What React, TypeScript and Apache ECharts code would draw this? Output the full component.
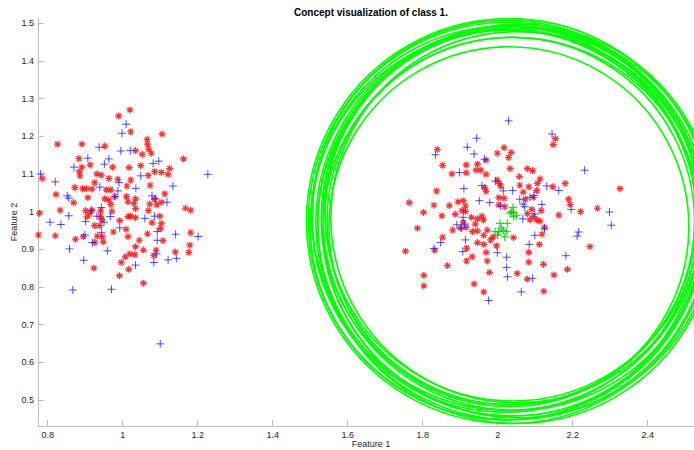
import React, { useEffect, useRef } from "react";
import * as echarts from "echarts";

const TITLE = "Concept visualization of class 1.";
const X_NAME = "Feature 1";
const Y_NAME = "Feature 2";

// class samples (red asterisks)
const redPoints: [number, number][] = [
  [0.989, 1.254], [1.019, 1.27], [1.021, 1.212], [0.826, 1.179], [0.891, 1.179], [0.952, 1.174],
  [0.883, 1.141], [0.891, 1.118], [0.913, 1.124], [0.973, 1.118], [1.017, 1.117], [0.884, 1.106],
  [0.886, 1.095], [0.931, 1.1], [0.943, 1.097], [0.963, 1.088], [0.987, 1.086], [0.785, 1.088],
  [1.021, 1.084], [0.925, 1.077], [1.011, 1.068], [0.872, 1.064], [0.893, 1.061], [0.903, 1.061],
  [0.918, 1.06], [0.956, 1.058], [0.968, 1.058], [0.822, 1.046], [0.907, 1.037], [0.952, 1.034],
  [0.963, 1.031], [0.979, 1.04], [1.01, 1.04], [1.014, 1.026], [0.869, 1.024], [0.968, 1.019],
  [0.833, 1.004], [0.901, 1.003], [0.912, 0.996], [0.918, 1.004], [0.941, 1.002], [0.971, 1.001],
  [0.905, 0.987], [0.941, 0.987], [0.778, 0.996], [1.014, 0.987], [1.021, 0.988], [0.944, 0.978],
  [0.992, 0.976], [0.925, 0.963], [0.939, 0.963], [0.775, 0.938], [0.82, 0.936], [0.874, 0.927],
  [0.895, 0.934], [0.932, 0.935], [0.945, 0.934], [0.975, 0.946], [1.009, 0.953], [1.014, 0.934],
  [0.925, 0.918], [0.948, 0.92], [1.019, 0.888], [1.007, 0.88], [0.996, 0.865], [0.923, 0.85],
  [1.016, 0.847], [0.991, 0.83],
  [1.105, 1.206], [1.065, 1.192], [1.066, 1.179], [1.069, 1.166], [1.076, 1.155], [1.052, 1.152],
  [1.034, 1.162], [1.162, 1.14], [1.048, 1.122], [1.085, 1.106], [1.103, 1.104], [1.121, 1.099],
  [1.125, 1.115], [1.068, 1.096], [1.073, 1.07], [1.112, 1.047], [1.034, 1.034], [1.03, 1.022],
  [1.034, 1.008], [1.072, 1.02], [1.068, 1.003], [1.085, 1.033], [1.091, 1.018], [1.103, 1.025],
  [1.167, 1.009], [1.181, 1.004], [1.099, 0.988], [1.078, 0.971], [1.103, 0.969], [1.1, 0.955],
  [1.034, 0.984], [1.066, 0.941], [1.181, 0.944], [1.044, 0.924], [1.034, 0.907], [1.055, 0.898],
  [1.089, 0.898], [1.107, 0.923], [1.179, 0.911], [1.176, 0.892], [1.14, 0.893], [1.083, 0.883],
  [1.032, 0.886], [1.055, 0.81],
  [1.839, 1.165], [1.853, 1.123], [1.878, 1.1], [1.916, 1.124], [1.916, 1.103], [1.946, 1.126],
  [1.942, 1.11], [1.955, 1.11], [1.969, 1.099], [1.969, 1.137], [1.999, 1.155], [2.017, 1.17],
  [2.036, 1.157], [2.029, 1.144], [2.033, 1.114], [1.837, 1.055], [1.764, 1.024], [1.83, 1.017],
  [1.871, 1.016], [1.894, 1.026], [1.908, 1.029], [1.905, 1.003], [1.914, 1.001], [1.802, 0.998],
  [1.851, 0.989], [1.887, 0.993], [1.93, 0.985], [1.946, 0.981], [1.958, 0.988], [1.962, 0.978],
  [1.94, 0.967], [1.908, 0.972], [1.916, 0.958], [1.901, 0.957], [1.88, 0.951], [1.933, 0.947],
  [1.946, 0.949], [1.972, 0.951], [1.963, 0.937], [1.786, 0.956], [1.853, 0.932], [1.832, 0.898],
  [1.754, 0.895], [1.917, 0.903], [1.932, 0.88], [1.917, 0.869], [1.946, 0.918], [1.963, 0.913],
  [1.969, 0.892], [1.972, 0.869], [1.997, 0.909], [1.981, 0.925], [1.866, 0.857], [1.803, 0.831],
  [1.803, 0.803], [1.937, 0.808], [1.963, 0.787], [1.978, 0.839], [1.965, 1.064], [1.969, 1.054],
  [1.999, 1.084], [2.004, 1.075], [2.008, 1.068], [2.003, 1.037], [2.017, 1.035], [2.019, 1.013],
  [2.003, 1.018], [2.042, 0.931], [1.914, 1.015], [1.988, 0.933],
  [2.154, 1.194], [2.148, 1.178], [2.079, 1.114], [2.093, 1.109], [2.113, 1.087], [2.106, 1.075],
  [2.058, 1.093], [2.059, 1.07], [2.083, 1.066], [2.068, 1.052], [2.104, 1.056], [2.095, 1.038],
  [2.074, 1.033], [2.147, 1.066], [2.18, 1.075], [2.189, 1.033], [2.193, 1.019], [2.221, 1.0],
  [2.266, 1.009], [2.326, 1.061], [2.163, 0.991], [2.091, 1.006], [2.116, 1.003], [2.095, 0.987],
  [2.086, 0.978], [2.104, 0.978], [2.113, 0.975], [2.079, 0.995], [2.125, 0.958], [2.118, 0.94],
  [2.111, 0.913], [2.083, 0.892], [2.083, 0.866], [2.122, 0.86], [2.246, 0.907], [2.186, 0.847],
  [2.15, 0.832], [2.052, 0.836], [2.079, 0.821], [2.123, 0.789],
];

// other samples (blue plus)
const bluePoints: [number, number][] = [
  [1.009, 1.232], [0.998, 1.208], [0.995, 1.161], [1.02, 1.162], [0.937, 1.171], [0.907, 1.142],
  [0.963, 1.14], [0.951, 1.126], [0.87, 1.118], [0.781, 1.1], [0.82, 1.079], [0.939, 1.065],
  [0.99, 1.077], [0.987, 1.055], [0.852, 1.042], [0.856, 1.036], [0.979, 1.04], [0.916, 1.004],
  [0.943, 1.011], [0.931, 0.988], [0.967, 0.987], [0.856, 0.989], [0.806, 0.972], [0.835, 0.966],
  [0.95, 0.972], [0.901, 0.974], [0.992, 0.957], [0.943, 0.945], [0.899, 0.938], [0.919, 0.918],
  [0.959, 0.896], [0.858, 0.901], [0.896, 0.871], [0.867, 0.792], [0.97, 0.794],
  [1.081, 1.128], [1.096, 1.134], [1.048, 1.095], [1.035, 1.062], [1.134, 1.068], [1.227, 1.099],
  [1.078, 1.042], [1.087, 1.034], [1.118, 1.025], [1.085, 0.988], [1.059, 0.982], [1.092, 0.947],
  [1.141, 0.94], [1.201, 0.934], [1.092, 0.924], [1.09, 0.888], [1.083, 0.865], [1.034, 0.858],
  [1.121, 0.872], [1.143, 0.876], [1.1, 0.649],
  [2.029, 1.241], [1.944, 1.195], [1.919, 1.171], [1.937, 1.153], [1.834, 1.151], [1.965, 1.139],
  [1.898, 1.104], [1.91, 1.061], [1.958, 1.069], [1.994, 1.081], [2.015, 1.055], [2.04, 1.056],
  [1.951, 1.029], [1.979, 1.024], [2.008, 1.015], [1.891, 0.965], [1.912, 0.967], [1.903, 0.956],
  [1.908, 0.985], [1.914, 0.925], [1.83, 0.902], [1.848, 0.918], [1.907, 0.894], [1.999, 0.891],
  [2.024, 0.879], [2.024, 0.852], [2.026, 0.827], [1.976, 0.764],
  [2.145, 1.206], [2.232, 1.11], [2.131, 1.068], [2.163, 1.056], [2.059, 1.033], [2.068, 1.02],
  [2.072, 1.013], [2.086, 1.038], [2.097, 1.043], [2.118, 1.019], [2.196, 1.006], [2.067, 0.981],
  [2.099, 0.994], [2.125, 0.954], [2.099, 0.937], [2.084, 0.913], [2.216, 0.946], [2.212, 0.935],
  [2.298, 0.999], [2.303, 0.964], [2.182, 0.883], [2.093, 0.823], [2.063, 0.787],
];

// concept points (green plus)
const conceptPoints: [number, number][] = [
  [2.006, 0.969], [2.002, 0.947], [1.993, 0.947], [2.015, 0.95], [2.026, 0.969], [2.033, 0.996],
  [2.042, 0.997], [2.043, 0.987], [2.037, 1.0], [2.0, 0.938], [2.01, 0.956], [2.024, 0.947],
  [2.041, 1.011], [2.05, 0.99], [2.019, 0.933],
];

// concept circles: centre x, centre y, radius
const circleCx = [2.03, 2.04, 2.02, 2.05, 2.03, 2.04, 2.035, 2.025, 2.045, 2.02, 2.055, 2.03, 2.04, 2.025, 2.035, 2.05];
const circleCy = [0.975, 0.97, 0.98, 0.965, 0.985, 0.96, 0.975, 0.99, 0.98, 0.965, 0.975, 0.96, 0.995, 0.975, 0.97, 0.985];
const circleR = [0.54, 0.525, 0.515, 0.53, 0.5, 0.505, 0.49, 0.52, 0.51, 0.52, 0.525, 0.48, 0.5, 0.53, 0.515, 0.495];

const FONT = "'Liberation Sans', Arial, Helvetica, sans-serif";
const AXIS_GRAY = "#bdbdbd";
const LABEL = "#262626";

const STAR = "path://M0,5L10,5M5,0L5,10M1.5,1.5L8.5,8.5M8.5,1.5L1.5,8.5";
const PLUS = "path://M0,5L10,5M5,0L5,10";

export default function App() {
  const ref = useRef<HTMLDivElement>(null);
  useEffect(() => {
    document.body.style.margin = "0";
    const chart = echarts.init(ref.current!, null, { renderer: "svg" });
    const circleData = circleCx.map((cx, i) => [cx, circleCy[i], circleR[i]]);
    const axisLabel = {
      color: LABEL,
      fontSize: 9,
      fontFamily: FONT,
      margin: 4,
      showMinLabel: false,
      showMaxLabel: false,
      formatter: (v: number) => String(Math.round(v * 10) / 10),
    };
    chart.setOption({
      animation: false,
      backgroundColor: "#ffffff",
      grid: { left: 38, top: 18, width: 667, height: 408, containLabel: false, outerBoundsMode: "none" },
      graphic: [
        {
          type: "text",
          x: 371,
          y: 12,
          style: {
            text: TITLE,
            fill: "#000",
            font: `bold 10px ${FONT}`,
            textAlign: "center",
            textVerticalAlign: "middle",
          },
        },
        {
          type: "text",
          x: 371,
          y: 444,
          style: {
            text: X_NAME,
            fill: LABEL,
            font: `9px ${FONT}`,
            textAlign: "center",
            textVerticalAlign: "middle",
          },
        },
        {
          type: "text",
          x: 14,
          y: 222,
          rotation: Math.PI / 2,
          style: {
            text: Y_NAME,
            fill: LABEL,
            font: `9px ${FONT}`,
            textAlign: "center",
            textVerticalAlign: "middle",
          },
        },
      ],
      xAxis: {
        type: "value",
        min: 0.774,
        max: 2.553,
        minInterval: 0.2,
        maxInterval: 0.2,
        splitNumber: 9,
        axisLine: { show: true, lineStyle: { color: AXIS_GRAY, width: 1 } },
        axisTick: { show: true, inside: true, length: 6, lineStyle: { color: AXIS_GRAY } },
        axisLabel,
        splitLine: { show: false },
      },
      yAxis: {
        type: "value",
        min: 0.431,
        max: 1.514,
        minInterval: 0.1,
        maxInterval: 0.1,
        splitNumber: 11,
        axisLine: { show: true, lineStyle: { color: AXIS_GRAY, width: 1 } },
        axisTick: { show: true, inside: true, length: 6, lineStyle: { color: AXIS_GRAY } },
        axisLabel,
        splitLine: { show: false },
      },
      series: [
        {
          type: "custom",
          clip: true,
          data: circleData,
          encode: { x: 0, y: 1 },
          renderItem: (params: any, api: any) => {
            const c = api.coord([api.value(0), api.value(1)]);
            const r = api.size([api.value(2), 0])[0];
            return {
              type: "circle",
              shape: { cx: c[0], cy: c[1], r },
              style: { fill: "none", stroke: "#00ff00", lineWidth: 1.6 },
              silent: true,
            };
          },
          z: 1,
        },
        {
          type: "scatter",
          data: redPoints,
          symbol: STAR,
          symbolSize: 7,
          itemStyle: { color: "rgba(0,0,0,0)", borderColor: "#ff0000", borderWidth: 1.2 },
          z: 2,
        },
        {
          type: "scatter",
          data: bluePoints,
          symbol: PLUS,
          symbolSize: 8,
          itemStyle: { color: "rgba(0,0,0,0)", borderColor: "#2020ff", borderWidth: 1 },
          z: 3,
        },
        {
          type: "scatter",
          data: conceptPoints,
          symbol: PLUS,
          symbolSize: 8,
          itemStyle: { color: "rgba(0,0,0,0)", borderColor: "#00c800", borderWidth: 1.3 },
          z: 4,
        },
      ],
    });
    return () => chart.dispose();
  }, []);
  return <div ref={ref} style={{ width: 694, height: 450 }} />;
}
